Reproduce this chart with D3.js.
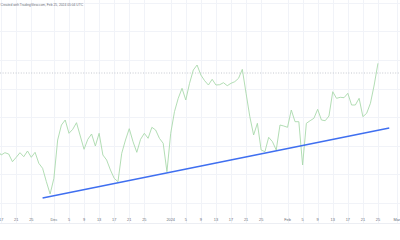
<!DOCTYPE html>
<html>
<head>
<meta charset="utf-8">
<script src="https://cdn.jsdelivr.net/npm/d3@7"></script>
<style>
  html, body { margin: 0; padding: 0; background: #ffffff; }
  svg { display: block; }
</style>
</head>
<body>
<svg id="chart" width="400" height="240"></svg>
<script>
// ---- data ----
const startDate = "2023-11-16";   // first daily close
const prices = [
  73, 68, 70.3, 69, 61.3, 65.7, 70.3, 66.3, 72, 65.7,
  70.7, 59.7, 54.7, 41.3, 29, 44.7, 83, 98, 103, 89.7,
  93.7, 100.3, 87, 73.7, 83.7, 89, 77, 89.7, 68, 63,
  53, 44.7, 41.3, 69.7, 83, 94.3, 81.3, 70.7, 83.7, 89.7,
  84.7, 95.7, 93, 84.7, 79.7, 51.3, 89.7, 111.3, 124.7, 134.7,
  123, 139.7, 153, 158, 148, 142.3, 138, 143.7, 138, 138.3,
  140.3, 137.3, 139.7, 141.3, 144.7, 153.7, 129.7, 106.3, 88, 99.7,
  73, 71.3, 85.7, 81.3, 73, 98, 97, 95.7, 113, 101.3,
  101.3, 58, 99.7, 102.3, 104.7, 113.7, 103, 102.3, 107, 131.3,
  124.7, 125.7, 125.3, 129.7, 118, 118, 124.7, 106.3, 109.7, 119.7,
  138, 159.7
];
const trendDates = ["2023-11-28", "2024-02-28"];
const trendValues = [25, 95];
const refLevel = 150;
const gridLevels = [20.5, 49, 77.5, 106, 134.5, 163, 191.5, 220];
const tickDates = [
  "2023-11-17","2023-11-21","2023-11-25","2023-12-01","2023-12-05","2023-12-09",
  "2023-12-13","2023-12-17","2023-12-21","2023-12-25","2024-01-01","2024-01-05",
  "2024-01-09","2024-01-13","2024-01-17","2024-01-21","2024-01-25","2024-02-01",
  "2024-02-05","2024-02-09","2024-02-13","2024-02-17","2024-02-21","2024-02-25",
  "2024-03-01"
];
const tickLabels = [
  "17","21","25","Dec","5","9","13","17","21","25","2024","5",
  "9","13","17","21","25","Feb","5","9","13","17","21","25","Mar"
];
const headerText = "Created with TradingView.com, Feb 25, 2024 05:04 UTC";

// ---- build ----
const parse = d3.utcParse("%Y-%m-%d");
const t0 = parse(startDate);
const series = prices.map((v, i) => ({ date: d3.utcDay.offset(t0, i), value: v }));

const svg = d3.select("#chart");
const W = 400, H = 240, paneBottom = 223;

const x = d3.scaleUtc()
  .domain([parse("2023-12-01"), parse("2024-03-01")])
  .range([53.9, 396.8]);
const y = d3.scaleLinear().domain([0, 223]).range([223, 0]);

// grid
const grid = svg.append("g");
grid.selectAll("line.v").data(tickDates).join("line")
  .attr("x1", d => Math.round(x(parse(d))) + 0.5)
  .attr("x2", d => Math.round(x(parse(d))) + 0.5)
  .attr("y1", 0).attr("y2", paneBottom)
  .attr("stroke", "#f1f3f8").attr("stroke-width", 1);
grid.selectAll("line.h").data(gridLevels).join("line")
  .attr("x1", 0).attr("x2", W)
  .attr("y1", d => Math.round(y(d)) + 0.5)
  .attr("y2", d => Math.round(y(d)) + 0.5)
  .attr("stroke", "#f1f3f8").attr("stroke-width", 1);
svg.append("line")
  .attr("x1", 0).attr("x2", W)
  .attr("y1", paneBottom + 0.5).attr("y2", paneBottom + 0.5)
  .attr("stroke", "#eceef3");

// header
svg.append("text")
  .attr("x", 0.5).attr("y", 6.2)
  .attr("font-family", "Liberation Sans, Arial, sans-serif")
  .attr("font-size", 3.3)
  .attr("fill", "#6a6d78")
  .text(headerText);

// reference dotted level
svg.append("line")
  .attr("x1", 0).attr("x2", W)
  .attr("y1", y(refLevel)).attr("y2", y(refLevel))
  .attr("stroke", "#b8bbc4").attr("stroke-width", 0.8)
  .attr("stroke-dasharray", "1,1.6");

// price line
const line = d3.line().x(d => x(d.date)).y(d => y(d.value));
svg.append("path")
  .datum(series)
  .attr("d", line)
  .attr("fill", "none")
  .attr("stroke", "#a9d9ab")
  .attr("stroke-width", 0.9)
  .attr("stroke-linejoin", "round");

// trend line
const trend = trendDates.map((d, i) => ({ date: parse(d), value: trendValues[i] }));
svg.append("path")
  .datum(trend)
  .attr("d", line)
  .attr("fill", "none")
  .attr("stroke", "#3f6ff0")
  .attr("stroke-width", 1.4);

// time axis labels
svg.append("g").selectAll("text").data(tickDates).join("text")
  .attr("x", d => x(parse(d)))
  .attr("y", 220.8)
  .attr("text-anchor", "middle")
  .attr("font-family", "Liberation Sans, Arial, sans-serif")
  .attr("font-size", 3.9)
  .attr("fill", "#6a6d78")
  .text((d, i) => tickLabels[i]);
</script>
</body>
</html>
